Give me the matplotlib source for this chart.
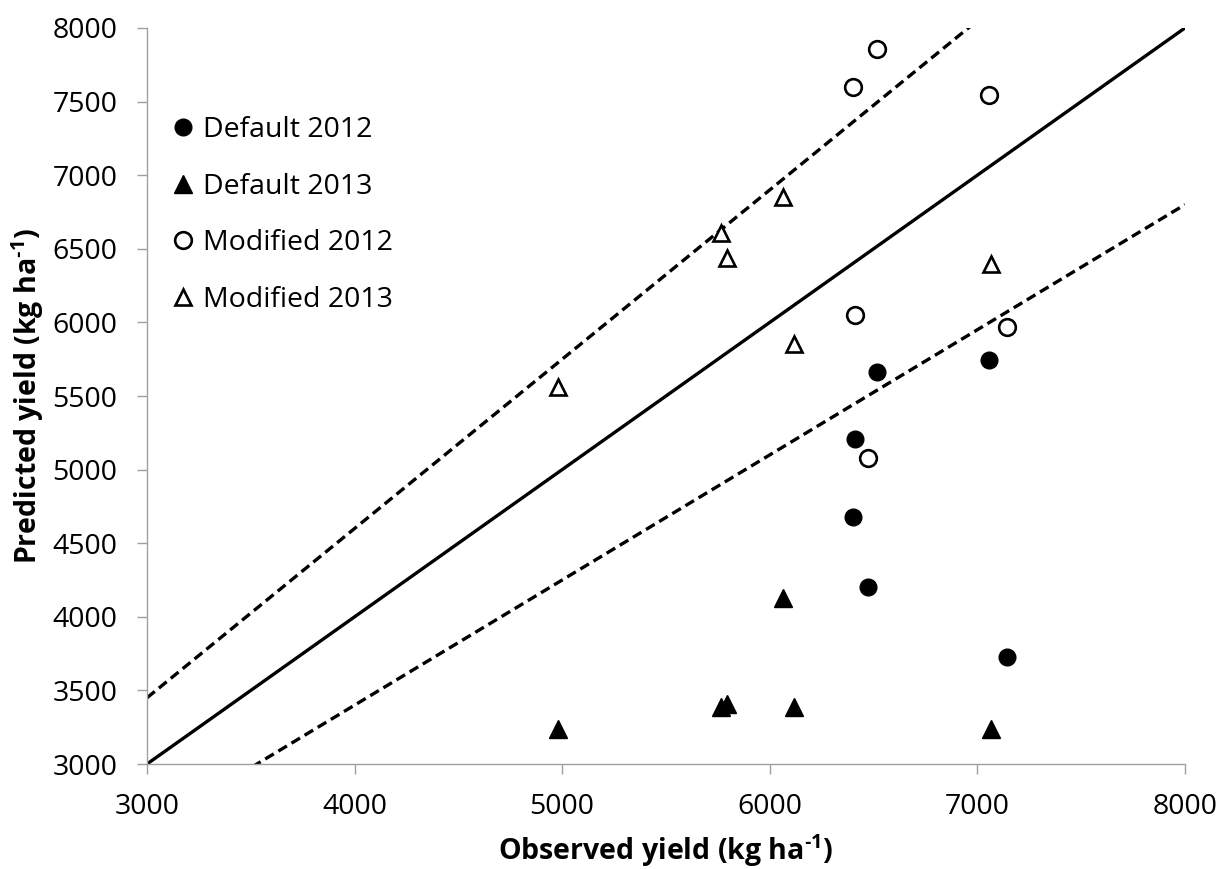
import matplotlib
matplotlib.use('Agg')
import matplotlib.pyplot as plt
import numpy as np

plt.rcParams['font.family'] = ['Open Sans', 'DejaVu Sans']
plt.rcParams['mathtext.fontset'] = 'custom'
plt.rcParams['mathtext.rm'] = 'Open Sans'
plt.rcParams['mathtext.bf'] = 'Open Sans:bold'

# observed yields (kg/ha)
obs_2012 = [6400, 6410, 6475, 6515, 7055, 7145]
obs_2013 = [4978, 5765, 5792, 6062, 6117, 7066]

# predicted yields (kg/ha)
default_2012 = [4680, 5210, 4200, 5660, 5745, 3730]
default_2013 = [3240, 3390, 3405, 4125, 3390, 3240]
modified_2012 = [7600, 6050, 5080, 7860, 7545, 5970]
modified_2013 = [5560, 6610, 6440, 6855, 5850, 6397]

# 1:1 line and +/-15% bounds
line_x = [3000, 8000]
upper_factor = 1.15
lower_factor = 0.85

axis_min = 3000
axis_max = 8000

fig = plt.figure(figsize=(12.25, 8.69), dpi=100)
ax = fig.add_axes([0.12, 0.1208, 0.8473, 0.847])

lx = np.array(line_x, dtype=float)
ax.plot(lx, lx, color='black', linewidth=2.4, zorder=2)
ax.plot(lx, lx * upper_factor, color='black', linewidth=2.4,
        dashes=(3, 1.6), zorder=2)
ax.plot(lx, lx * lower_factor, color='black', linewidth=2.4,
        dashes=(3, 1.6), zorder=2)

ax.plot(obs_2012, default_2012, linestyle='none', marker='o', markersize=12,
        color='black', label='Default 2012', zorder=3)
ax.plot(obs_2013, default_2013, linestyle='none', marker='^', markersize=12.5,
        color='black', label='Default 2013', zorder=3)
ax.plot(obs_2012, modified_2012, linestyle='none', marker='o', markersize=12,
        markerfacecolor='white', markeredgecolor='black', markeredgewidth=1.9,
        label='Modified 2012', zorder=3)
ax.plot(obs_2013, modified_2013, linestyle='none', marker='^', markersize=12,
        markerfacecolor='white', markeredgecolor='black', markeredgewidth=1.9,
        label='Modified 2013', zorder=3)

ax.set_xlim(axis_min, axis_max)
ax.set_ylim(axis_min, axis_max)
ax.set_xticks(np.arange(3000, 8001, 1000))
ax.set_yticks(np.arange(3000, 8001, 500))

for side in ['top', 'right']:
    ax.spines[side].set_visible(False)
for side in ['left', 'bottom']:
    ax.spines[side].set_color('#a0a0a0')
    ax.spines[side].set_linewidth(1.0)

ax.tick_params(axis='both', direction='out', length=7.2, width=1.0,
               color='#a0a0a0', labelsize=20.5, labelcolor='black')
ax.tick_params(axis='x', pad=14)
ax.tick_params(axis='y', pad=14)

ax.set_xlabel('Observed yield (kg ha$^{\\mathbf{\u20101}}$)', fontsize=20.5,
              fontweight='bold')
ax.set_ylabel('Predicted yield (kg ha$^{\\mathbf{\u20101}}$)', fontsize=20.5,
              fontweight='bold')
ax.xaxis.set_label_coords(0.5, -0.093)
ax.yaxis.set_label_coords(-0.097, 0.5)

ax.legend(loc='upper left', bbox_to_anchor=(0.024, 0.88), frameon=False,
          fontsize=20.5, handlelength=0.8, handletextpad=0.3, borderpad=0,
          borderaxespad=0, labelspacing=1.0, numpoints=1)

fig.savefig('out.png', dpi=100)
